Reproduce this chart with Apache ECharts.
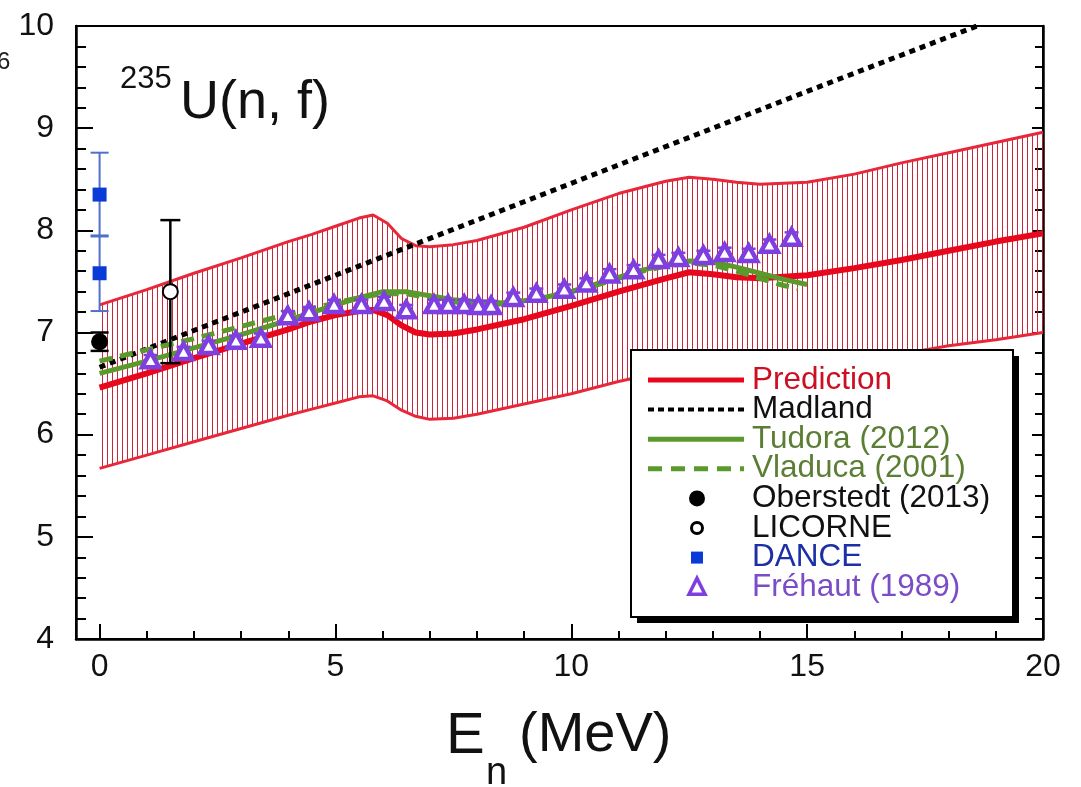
<!DOCTYPE html>
<html>
<head>
<meta charset="utf-8">
<script src="https://cdn.jsdelivr.net/npm/echarts@6/dist/echarts.min.js"></script>
<style>
html,body{margin:0;padding:0;background:#fff;}
#chart{width:1081px;height:787px;}
</style>
</head>
<body>
<div id="chart"></div>
<script>
// ---------------- data ----------------
const xMajorTicks = [0, 5, 10, 15, 20];
const xMinorTicks = [1, 2, 3, 4, 6, 7, 8, 9, 11, 12, 13, 14, 16, 17, 18, 19];

// Prediction band (E in MeV)
const bandE   = [0, 1, 2, 3, 4, 4.5, 5, 5.5, 5.8, 6.1, 6.4, 6.7, 7, 7.5, 8, 9, 10, 11, 12, 12.5, 13, 13.5, 14, 15, 16, 17, 18, 19, 20];
const predMid = [6.46, 6.60, 6.75, 6.89, 7.03, 7.11, 7.17, 7.21, 7.22, 7.17, 7.07, 7.00, 6.98, 6.99, 7.03, 7.13, 7.26, 7.40, 7.53, 7.59, 7.57, 7.54, 7.53, 7.56, 7.63, 7.71, 7.80, 7.89, 7.97];
const predUp  = [7.27, 7.42, 7.58, 7.73, 7.89, 7.96, 8.04, 8.12, 8.15, 8.07, 7.92, 7.85, 7.84, 7.86, 7.90, 8.03, 8.20, 8.36, 8.48, 8.52, 8.50, 8.47, 8.45, 8.47, 8.55, 8.66, 8.76, 8.86, 8.96];
const predLow = [5.67, 5.80, 5.93, 6.06, 6.19, 6.25, 6.31, 6.37, 6.38, 6.33, 6.24, 6.18, 6.15, 6.16, 6.20, 6.30, 6.40, 6.52, 6.62, 6.67, 6.66, 6.64, 6.62, 6.64, 6.71, 6.79, 6.87, 6.93, 7.00];

// Madland
const madE = [0, 5, 10, 15, 18.6];
const madV = [6.66, 7.56, 8.46, 9.36, 10.0];

// Tudora (2012)
const tudE = [0, 1, 2, 3, 4, 5, 5.5, 6, 6.5, 7, 7.5, 8, 8.5, 9, 9.5, 10, 10.5, 11, 11.5, 12, 12.5, 13, 13.5, 14, 14.5, 15];
const tudV = [6.60, 6.72, 6.85, 6.98, 7.12, 7.27, 7.34, 7.40, 7.40, 7.36, 7.32, 7.30, 7.29, 7.31, 7.35, 7.40, 7.47, 7.54, 7.61, 7.66, 7.70, 7.69, 7.64, 7.58, 7.52, 7.47];

// Vladuca (2001)
const vlaE = [0, 1, 2, 3, 4, 5, 5.5, 6, 6.5, 7, 7.5, 8, 8.5, 9, 9.5, 10, 10.5, 11, 11.5, 12, 12.5, 13, 13.5, 14, 14.5, 14.8];
const vlaV = [6.72, 6.83, 6.94, 7.06, 7.18, 7.29, 7.34, 7.38, 7.38, 7.34, 7.30, 7.28, 7.28, 7.31, 7.35, 7.40, 7.46, 7.53, 7.60, 7.65, 7.68, 7.66, 7.60, 7.53, 7.46, 7.43];

// Fréhaut (1989)
const freE   = [1.08, 1.78, 2.31, 2.89, 3.42, 3.99, 4.44, 4.97, 5.55, 6.03, 6.50, 7.09, 7.39, 7.73, 8.03, 8.30, 8.77, 9.26, 9.85, 10.32, 10.81, 11.32, 11.85, 12.27, 12.80, 13.25, 13.76, 14.20, 14.67];
const freV   = [6.72, 6.80, 6.86, 6.91, 6.93, 7.15, 7.19, 7.26, 7.26, 7.29, 7.21, 7.26, 7.26, 7.26, 7.25, 7.25, 7.33, 7.37, 7.41, 7.47, 7.56, 7.60, 7.70, 7.72, 7.74, 7.77, 7.76, 7.85, 7.92];
const freErr = [0.06, 0.06, 0.06, 0.06, 0.06, 0.06, 0.06, 0.06, 0.06, 0.06, 0.06, 0.06, 0.06, 0.06, 0.06, 0.06, 0.06, 0.06, 0.06, 0.06, 0.06, 0.06, 0.06, 0.06, 0.06, 0.06, 0.06, 0.06, 0.06];

// DANCE
const danE = [0, 0];
const danV = [8.35, 7.58];
const danErr = [0.41, 0.37];

// Oberstedt (2013)
const obeE = [0];
const obeV = [6.91];
const obeErr = [0.09];

// LICORNE
const licE = [1.5];
const licV = [7.40];
const licErr = [0.70];

// legend
const legendNames = ['Prediction', 'Madland', 'Tudora (2012)', 'Vladuca (2001)', 'Oberstedt (2013)', 'LICORNE', 'DANCE', 'Fréhaut (1989)'];
const legendTextColors = ['#cc1024', '#111111', '#5b7d34', '#5b7d34', '#111111', '#111111', '#1c2fa6', '#7a4cc8'];

// ---------------- style ----------------
const FONT = '"Liberation Sans", Arial, Helvetica, sans-serif';
const RED = '#e8081e';
const GREEN = '#5a9a2c';
const PURPLE = '#7f3fe0';
const BLUE = '#0b3bd6';
const BLUE_ERR = '#5070cc';

const zip = (a, b) => a.map((v, i) => [v, b[i]]);
const errData = (e, v, err) => e.map((x, i) => [x, v[i], v[i] - err[i], v[i] + err[i]]);

// hatch pattern for the prediction band
const pc = document.createElement('canvas');
pc.width = 5; pc.height = 4;
const pctx = pc.getContext('2d');
pctx.fillStyle = 'rgba(196,28,48,0.95)';
pctx.fillRect(2, 0, 1, 4);

function errRender(capW, color, lw) {
  return function (params, api) {
    const x = api.value(0), lo = api.value(2), hi = api.value(3);
    const a = api.coord([x, lo]), b = api.coord([x, hi]);
    const st = { stroke: color, lineWidth: lw };
    return {
      type: 'group',
      children: [
        { type: 'line', shape: { x1: a[0], y1: a[1], x2: b[0], y2: b[1] }, style: st },
        { type: 'line', shape: { x1: a[0] - capW / 2, y1: a[1], x2: a[0] + capW / 2, y2: a[1] }, style: st },
        { type: 'line', shape: { x1: b[0] - capW / 2, y1: b[1], x2: b[0] + capW / 2, y2: b[1] }, style: st }
      ]
    };
  };
}

// open triangle marker with thick outline
function triRender(size, color, lw) {
  return function (params, api) {
    const p = api.coord([api.value(0), api.value(1)]);
    const h = size * 0.9, w = size / 2;
    return {
      type: 'polygon',
      shape: { points: [[p[0], p[1] - h * 0.6], [p[0] + w, p[1] + h * 0.4], [p[0] - w, p[1] + h * 0.4]] },
      style: { fill: '#fff', stroke: color, lineWidth: lw, lineJoin: 'miter' }
    };
  };
}

const chart = echarts.init(document.getElementById('chart'), null, { renderer: 'canvas' });

// legend graphics
const LX = 631, LY = 350, LW = 382, LH = 267;
const rowY = [380, 409.6, 439.2, 468.8, 498.4, 528, 557.6, 587.2];
const legendGraphics = [
  { type: 'rect', shape: { x: LX + 6, y: LY + 6, width: LW, height: LH }, style: { fill: '#000' }, z: 100 },
  { type: 'rect', shape: { x: LX, y: LY, width: LW, height: LH }, style: { fill: '#fff', stroke: '#000', lineWidth: 2 }, z: 101 },
  { type: 'line', shape: { x1: 648, y1: rowY[0], x2: 744, y2: rowY[0] }, style: { stroke: RED, lineWidth: 5 }, z: 102 },
  { type: 'line', shape: { x1: 648, y1: rowY[1], x2: 744, y2: rowY[1] }, style: { stroke: '#000', lineWidth: 4, lineDash: [6, 4] }, z: 102 },
  { type: 'line', shape: { x1: 648, y1: rowY[2], x2: 744, y2: rowY[2] }, style: { stroke: GREEN, lineWidth: 5 }, z: 102 },
  { type: 'line', shape: { x1: 648, y1: rowY[3], x2: 744, y2: rowY[3] }, style: { stroke: GREEN, lineWidth: 5, lineDash: [14, 9] }, z: 102 },
  { type: 'circle', shape: { cx: 697, cy: rowY[4], r: 8 }, style: { fill: '#000' }, z: 102 },
  { type: 'circle', shape: { cx: 697, cy: rowY[5], r: 5.5 }, style: { fill: '#fff', stroke: '#000', lineWidth: 3 }, z: 102 },
  { type: 'rect', shape: { x: 691, y: rowY[6] - 6, width: 12, height: 12 }, style: { fill: BLUE }, z: 102 },
  { type: 'polygon', shape: { points: [[697, rowY[7] - 9], [705, rowY[7] + 7], [689, rowY[7] + 7]] }, style: { fill: '#fff', stroke: PURPLE, lineWidth: 3.5 }, z: 102 }
];
legendNames.forEach((n, i) => {
  legendGraphics.push({
    type: 'text', x: 752, y: rowY[i], z: 103,
    style: { text: n, fill: legendTextColors[i], font: '31.5px ' + FONT, verticalAlign: 'middle' }
  });
});

const option = {
  animation: false,
  backgroundColor: '#fff',
  grid: { left: 76, right: 38, top: 26, bottom: 148, show: true, borderColor: '#000', borderWidth: 2, backgroundColor: 'transparent' },
  xAxis: [
    {
      type: 'value', min: -0.5, max: 20, position: 'bottom',
      axisLine: { show: true, onZero: false, lineStyle: { color: '#000', width: 2.5 } },
      axisTick: { show: true, inside: true, length: 15, lineStyle: { color: '#000', width: 2 }, customValues: xMajorTicks },
      axisLabel: { show: true, customValues: xMajorTicks, fontSize: 32, color: '#111', margin: 12, fontFamily: FONT },
      splitLine: { show: false }
    },
    {
      type: 'value', min: -0.5, max: 20, position: 'bottom',
      axisLine: { show: false },
      axisTick: { show: true, inside: true, length: 8, lineStyle: { color: '#000', width: 2 }, customValues: xMinorTicks },
      axisLabel: { show: false },
      splitLine: { show: false }
    }
  ],
  yAxis: [
    {
      type: 'value', min: 4, max: 10, interval: 1, position: 'left',
      axisLine: { show: true, onZero: false, lineStyle: { color: '#000', width: 2.5 } },
      axisTick: { show: true, inside: true, length: 17, lineStyle: { color: '#000', width: 2 } },
      minorTick: { show: true, splitNumber: 5, length: 10, lineStyle: { color: '#000', width: 2 } },
      axisLabel: { fontSize: 32, color: '#111', margin: 22, fontFamily: FONT },
      splitLine: { show: false }, minorSplitLine: { show: false }
    },
    {
      type: 'value', min: 4, max: 10, interval: 1, position: 'right',
      axisLine: { show: true, onZero: false, lineStyle: { color: '#000', width: 2.5 } },
      axisTick: { show: true, inside: true, length: 11, lineStyle: { color: '#000', width: 2 } },
      minorTick: { show: true, splitNumber: 5, length: 8, lineStyle: { color: '#000', width: 2 } },
      axisLabel: { show: false },
      splitLine: { show: false }, minorSplitLine: { show: false }
    }
  ],
  series: [
    {
      name: 'band', type: 'custom', z: 1, silent: true,
      data: [[0, 0]],
      renderItem: function (params, api) {
        const pts = [];
        bandE.forEach((e, i) => pts.push(api.coord([e, predUp[i]])));
        for (let i = bandE.length - 1; i >= 0; i--) pts.push(api.coord([bandE[i], predLow[i]]));
        return { type: 'polygon', shape: { points: pts }, style: { fill: { image: pc, repeat: 'repeat' }, stroke: null } };
      }
    },
    { name: 'upper', type: 'line', z: 2, data: zip(bandE, predUp), symbol: 'none', lineStyle: { color: '#e8283a', width: 3 } },
    { name: 'lower', type: 'line', z: 2, data: zip(bandE, predLow), symbol: 'none', lineStyle: { color: '#e8283a', width: 3 } },
    { name: 'Madland', type: 'line', z: 3, data: zip(madE, madV), symbol: 'none', lineStyle: { color: '#000', width: 5, type: [6, 5], cap: 'butt' } },
    { name: 'Prediction', type: 'line', z: 4, data: zip(bandE, predMid), symbol: 'none', lineStyle: { color: RED, width: 6 } },
    { name: 'Vladuca (2001)', type: 'line', z: 5, data: zip(vlaE, vlaV), symbol: 'none', lineStyle: { color: GREEN, width: 5, type: [13, 8] } },
    { name: 'Tudora (2012)', type: 'line', z: 5, data: zip(tudE, tudV), symbol: 'none', lineStyle: { color: GREEN, width: 5 } },
    { name: 'FreErr', type: 'custom', z: 6, data: errData(freE, freV, freErr), renderItem: errRender(14, PURPLE, 2.5) },
    { name: 'Fréhaut (1989)', type: 'custom', z: 7, data: zip(freE, freV), renderItem: triRender(17, PURPLE, 4.5) },
    { name: 'DanErr', type: 'custom', z: 6, data: errData(danE, danV, danErr), renderItem: errRender(18, BLUE_ERR, 2) },
    { name: 'DANCE', type: 'scatter', z: 7, data: zip(danE, danV), symbol: 'rect', symbolSize: 14, itemStyle: { color: BLUE, opacity: 1 } },
    { name: 'ObeErr', type: 'custom', z: 6, data: errData(obeE, obeV, obeErr), renderItem: errRender(18, '#000', 2.5) },
    { name: 'Oberstedt (2013)', type: 'scatter', z: 7, data: zip(obeE, obeV), symbol: 'circle', symbolSize: 17, itemStyle: { color: '#000', opacity: 1 } },
    { name: 'LicErr', type: 'custom', z: 6, data: errData(licE, licV, licErr), renderItem: errRender(20, '#000', 2.5) },
    { name: 'LICORNE', type: 'scatter', z: 7, data: zip(licE, licV), symbol: 'emptyCircle', symbolSize: 15, itemStyle: { color: '#000', borderColor: '#000', borderWidth: 3.5, opacity: 1 } }
  ],
  graphic: [
    { type: 'text', left: -3, top: 50, style: { text: '6', fill: '#222', font: '24px ' + FONT } },
    { type: 'text', left: 120, top: 64, style: { text: '235', fill: '#111', font: '31px ' + FONT } },
    { type: 'text', left: 180, top: 76, style: { text: 'U(n, f)', fill: '#111', font: '54px ' + FONT } },
    { type: 'text', left: 446, top: 708, style: { text: 'E', fill: '#111', font: '58px ' + FONT } },
    { type: 'text', left: 486, top: 755, style: { text: 'n', fill: '#111', font: '38px ' + FONT } },
    { type: 'text', left: 519, top: 708, style: { text: '(MeV)', fill: '#111', font: '56px ' + FONT } }
  ].concat(legendGraphics)
};
chart.setOption(option);
</script>
</body>
</html>
